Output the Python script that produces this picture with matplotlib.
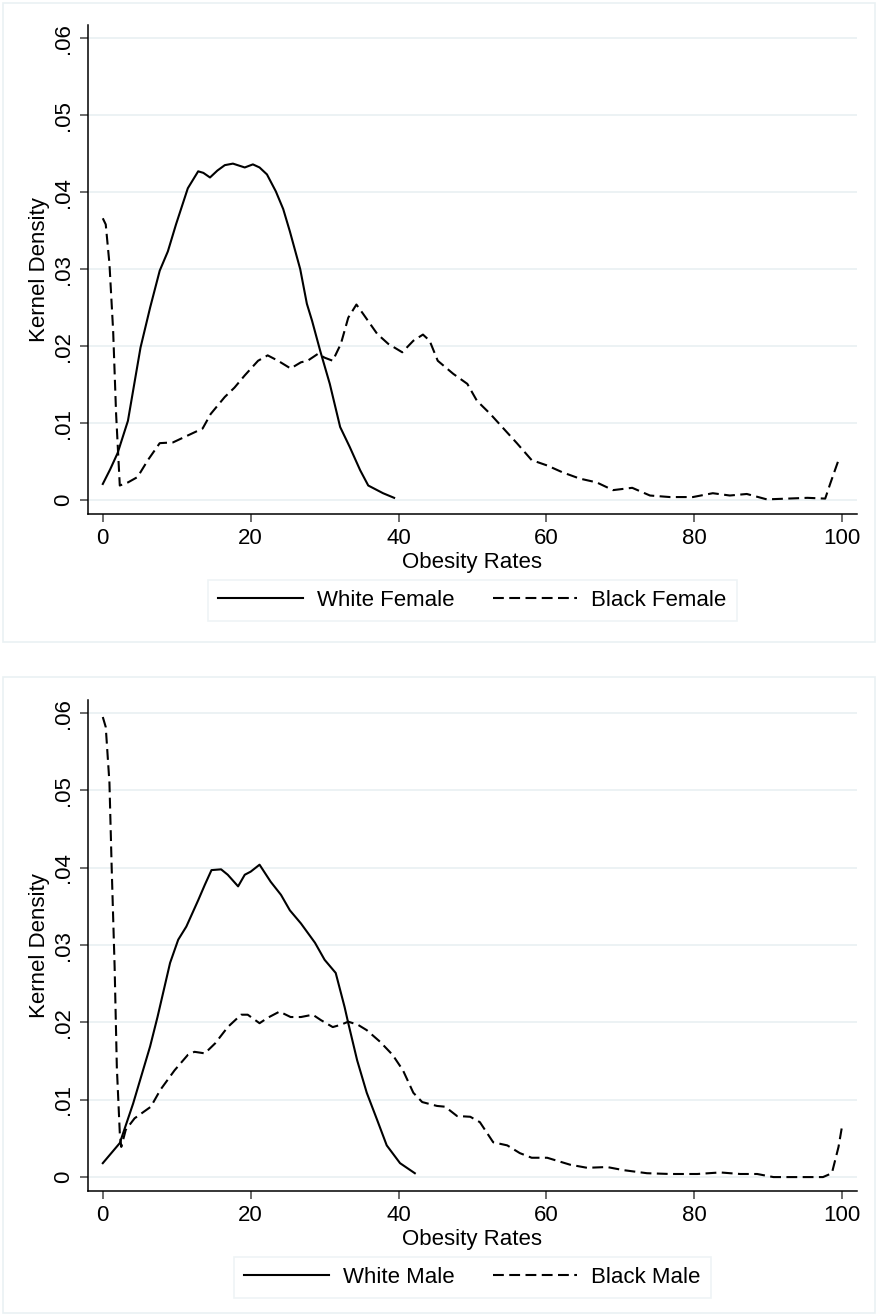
import numpy as np
import matplotlib
matplotlib.use("Agg")
import matplotlib.pyplot as plt
from matplotlib.patches import Rectangle

plt.rcParams["font.family"] = ["Liberation Sans", "DejaVu Sans"]

# ---- data (kernel density estimates) ----
wf_x = [0, 1, 2, 3.4, 5.1, 6.4, 7.7, 8.8, 9.9, 11.5, 12.9, 13.6, 14.5, 15.5, 16.5,
        17.6, 19.2, 20.3, 21.2, 22.2, 23.4, 24.4, 25.3, 26.7, 27.6, 28.3, 29.4,
        30.7, 32.1, 33.4, 34.8, 35.9, 37.1, 37.9, 39.4]
wf_y = [.0021, .0040, .0061, .0103, .0198, .0250, .0298, .0323, .0358, .0405, .0427,
        .0425, .0419, .0428, .0435, .0437, .0432, .0436, .0432, .0423, .0401, .0378,
        .0349, .0300, .0255, .0233, .0194, .0151, .0095, .0069, .0039, .0019, .0013,
        .0009, .0003]

bf_x = [0, 0.4, 0.9, 1.4, 1.8, 2.3, 3.4, 4.7, 6.1, 7.7, 9.5, 11.5, 13.5, 14.6, 16.5,
        17.8, 19.2, 21, 22.3, 23.7, 25.4, 26.8, 27.7, 29.1, 30, 31.1, 32.2, 33.2,
        34.3, 35.2, 37.1, 38.6, 40.5, 42, 43.3, 44.2, 45.3, 47.4, 49.3, 50.6, 52.4,
        54.1, 56, 58, 60.1, 62.2, 64.5, 66.8, 69, 71.6, 74, 76.7, 79.8, 82.5, 84.8,
        87.1, 89.8, 92.6, 95.3, 97.7, 98.4, 99.5]
bf_y = [.0366, .0358, .0307, .0220, .0112, .0019, .0023, .0030, .0052, .0074, .0075,
        .0084, .0093, .0112, .0134, .0146, .0162, .0181, .0188, .0181, .0171, .0179,
        .0181, .0190, .0185, .0181, .0203, .0237, .0254, .0242, .0216, .0203, .0192,
        .0207, .0215, .0207, .0181, .0164, .0151, .0129, .0112, .0094, .0074, .0052,
        .0045, .0036, .0028, .0023, .0013, .0016, .0006, .0004, .0004, .0009, .0006,
        .0008, .0001, .0002, .0003, .0002, .0022, .0052]

wm_x = [0, 2.3, 4.1, 6.4, 7.4, 9.1, 10.2, 11.3, 12.9, 13.8, 14.7, 16, 16.9, 18.3,
        19.2, 20, 21.2, 22.7, 24.1, 25.3, 26.8, 28.7, 30, 31.5, 32.7, 33.2, 34.4,
        35.7, 37.1, 38.4, 40.2, 42.2]
wm_y = [.0018, .0044, .0095, .0169, .0207, .0277, .0307, .0324, .0358, .0378, .0397,
        .0398, .0391, .0376, .0391, .0395, .0404, .0382, .0365, .0345, .0328, .0303,
        .0281, .0264, .0220, .0199, .0151, .0109, .0074, .0041, .0018, .0005]

bm_x = [0, 0.4, 0.9, 1.2, 1.6, 1.9, 2.3, 2.5, 3.1, 4.3, 6.5, 7.8, 9.7, 11.5, 12.4,
        13.8, 15.2, 16.9, 18.7, 19.6, 21.2, 22.3, 23.9, 25.4, 26.8, 28.4, 29.5, 31.1,
        32.2, 33.2, 34.5, 35.7, 37.5, 39.2, 40.6, 42, 43.2, 45.2, 46.3, 47.9, 49.7,
        51, 52.8, 54.7, 56.4, 58, 60.1, 63.2, 65.5, 68.2, 70.4, 73.6, 76.7, 80.4,
        83.5, 86.2, 88.5, 90.7, 93.9, 97.4, 98.6, 99.5, 100]
bm_y = [.0595, .0582, .0510, .0401, .0272, .0142, .0057, .0039, .0061, .0076, .0091,
        .0113, .0138, .0158, .0162, .0160, .0173, .0194, .0210, .0210, .0199, .0206,
        .0214, .0207, .0207, .0210, .0203, .0194, .0197, .0201, .0197, .0190, .0175,
        .0158, .0138, .0109, .0097, .0092, .0091, .0079, .0078, .0071, .0045, .0041,
        .0031, .0025, .0025, .0016, .0012, .0013, .0009, .0005, .0004, .0004, .0006,
        .0004, .0004, .0000, .0000, .0000, .0005, .0039, .0067]

x_ticks = [0, 20, 40, 60, 80, 100]
y_ticks = [0, .01, .02, .03, .04, .05, .06]
y_ticklabels = ["0", ".01", ".02", ".03", ".04", ".05", ".06"]

GRID = "#eaf1f3"
FS = 16

fig = plt.figure(figsize=(8.78, 13.16), dpi=100)

# light frames around each graph region
for (y0, y1) in [(3, 642), (677, 1313)]:
    fig.patches.append(Rectangle((3 / 878, 1 - y1 / 1316), 872 / 878, (y1 - y0) / 1316,
                                 transform=fig.transFigure, fill=False,
                                 edgecolor=GRID, linewidth=1.2))


def panel(rect, sx, sy, dx, dy, labels):
    ax = fig.add_axes(rect)
    ax.plot(sx, sy, color="black", lw=1.5, solid_joinstyle="round", label=labels[0])
    ax.plot(dx, dy, color="black", lw=1.5, dashes=(5.2, 2.6), label=labels[1])
    ax.set_xlim(-2.0, 102.0)
    ax.set_ylim(-0.0018, 0.0617)
    ax.set_xticks(x_ticks)
    ax.set_yticks(y_ticks)
    ax.set_yticklabels(y_ticklabels, rotation=90, va="center")
    ax.grid(axis="y", color=GRID, lw=1.3)
    ax.set_axisbelow(True)
    for s in ["top", "right"]:
        ax.spines[s].set_visible(False)
    for s in ["left", "bottom"]:
        ax.spines[s].set_linewidth(1.1)
    ax.tick_params(direction="out", length=6, width=1.1, color="#444444",
                   labelsize=FS, pad=4)
    ax.set_xlabel("Obesity Rates", fontsize=FS, labelpad=2.5)
    ax.set_ylabel("Kernel Density", fontsize=FS, labelpad=2)
    leg = ax.legend(loc="center", bbox_to_anchor=(0.5, -0.176), ncol=2,
                    fontsize=FS, frameon=True, fancybox=False, handlelength=3.8,
                    handletextpad=0.65, columnspacing=1.7, borderpad=0.45)
    leg.get_frame().set_edgecolor(GRID)
    leg.get_frame().set_linewidth(1.2)
    return ax


panel([88 / 878, 1 - 514 / 1316, 769 / 878, 489 / 1316],
      wf_x, wf_y, bf_x, bf_y, ["White Female", "Black Female"])
panel([88 / 878, 1 - 1191 / 1316, 769 / 878, 491 / 1316],
      wm_x, wm_y, bm_x, bm_y, ["White Male", "Black Male"])

fig.savefig("out.png", dpi=100)
